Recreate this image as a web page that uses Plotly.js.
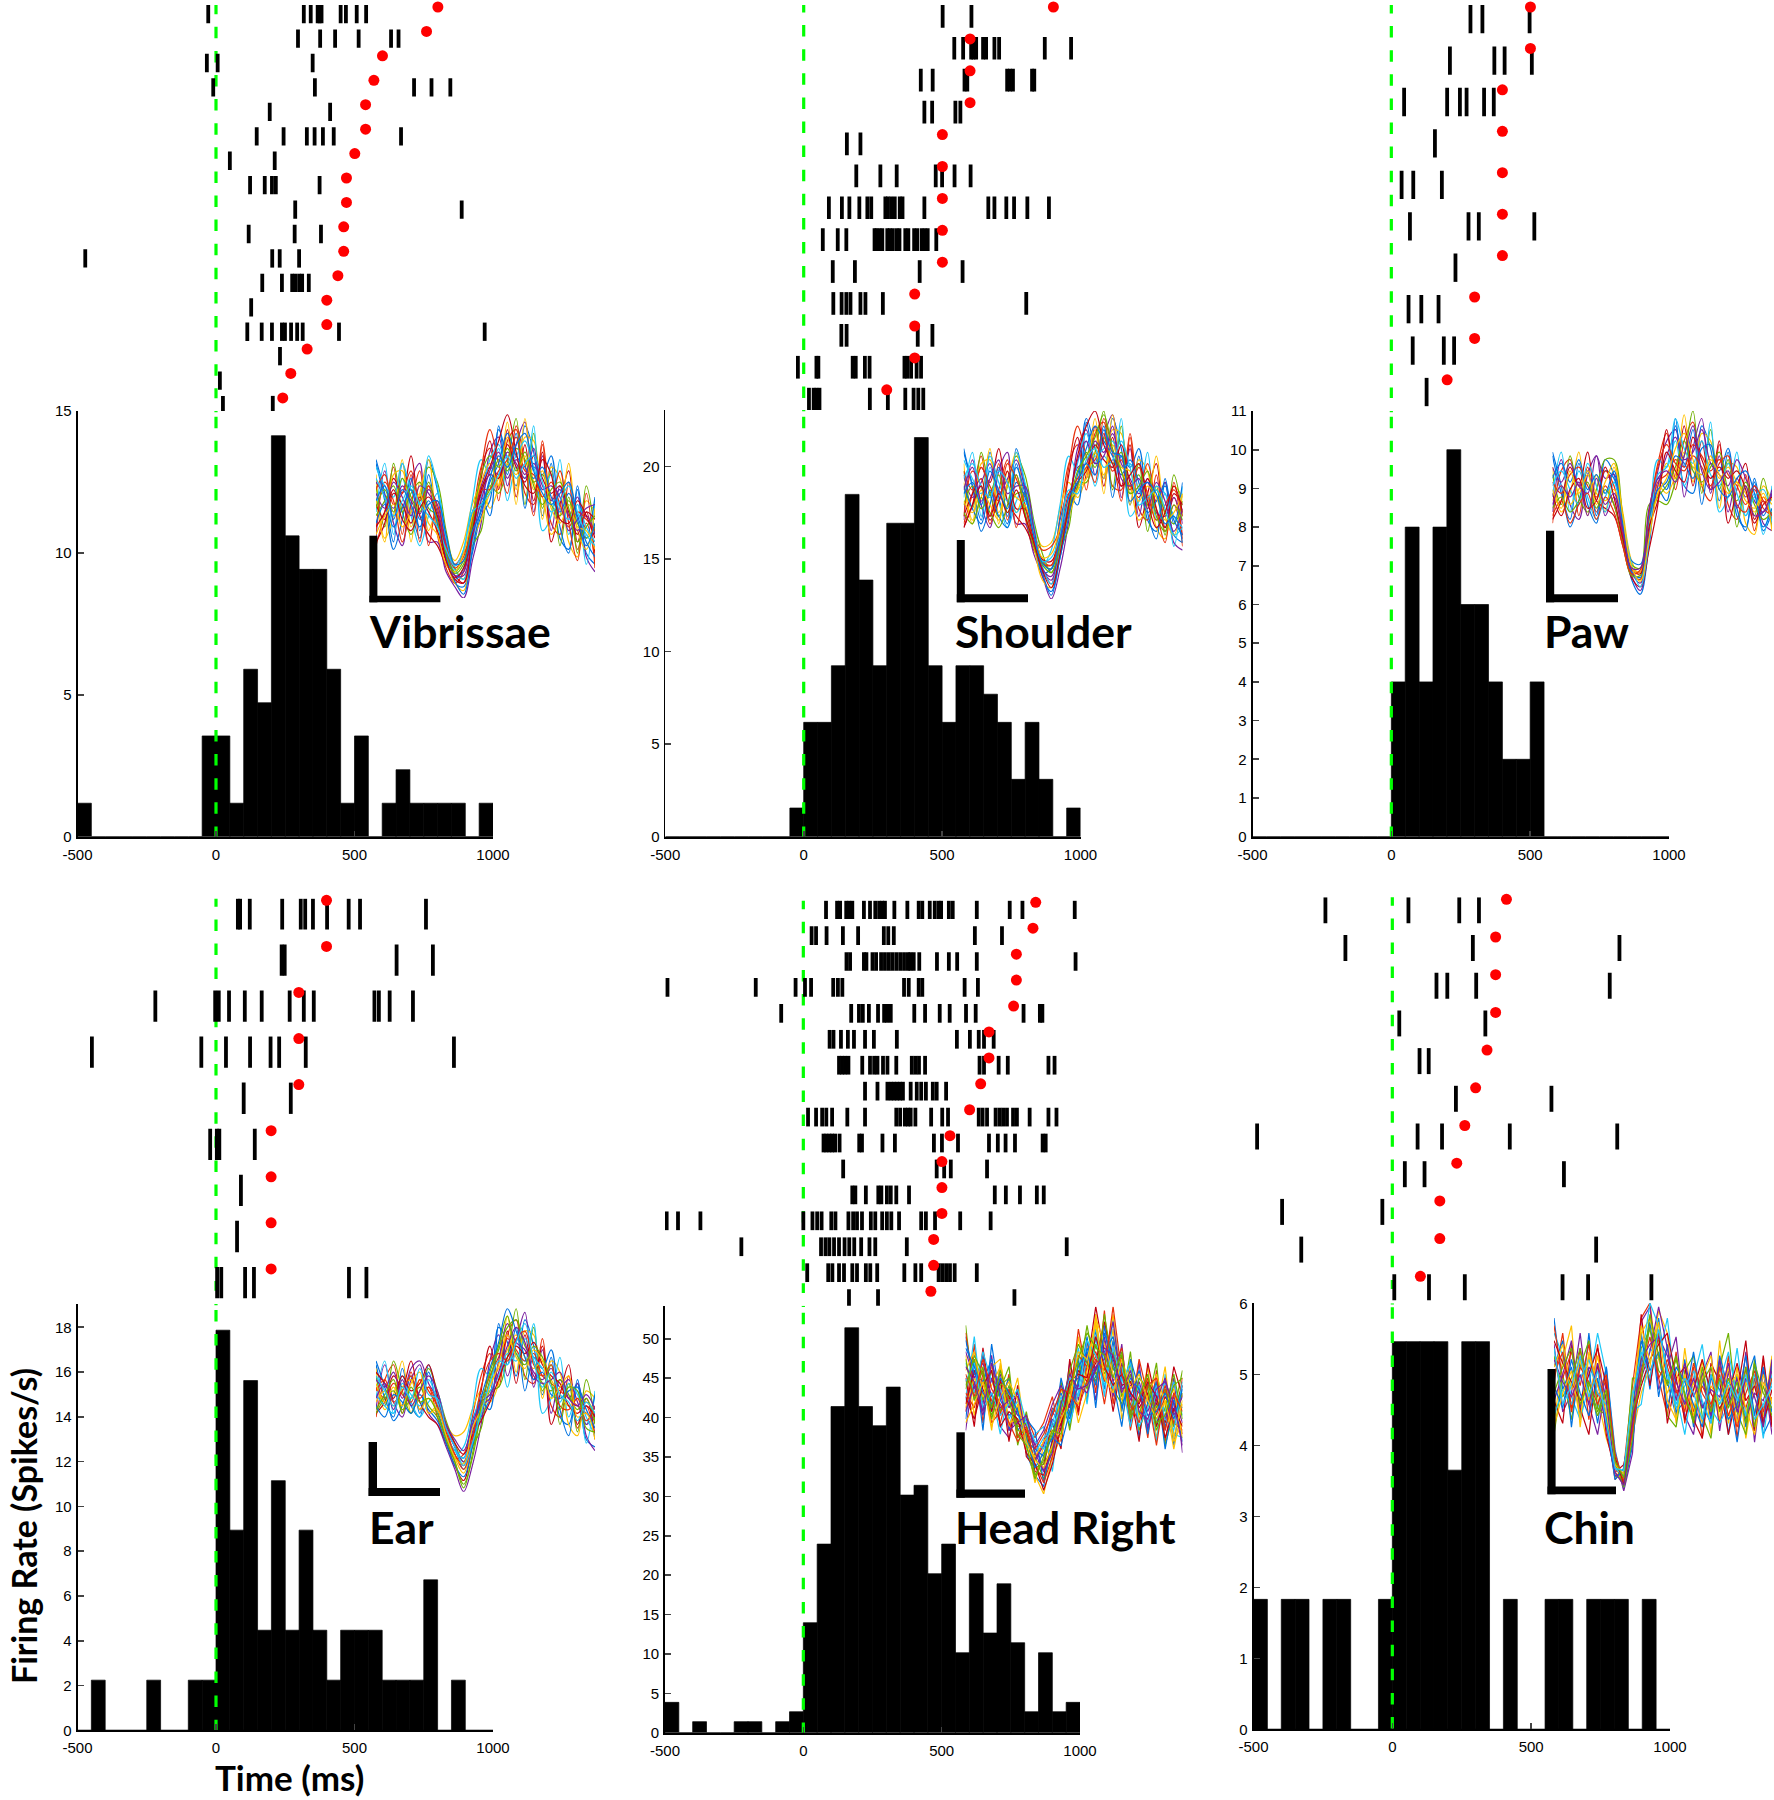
<!DOCTYPE html>
<html>
<head>
<meta charset="utf-8">
<script src="https://cdn.plot.ly/plotly-3.0.1.min.js"></script>
<style>html,body{margin:0;padding:0;background:#fff;overflow:hidden}#chart{width:1774px;height:1800px}</style>
</head>
<body>
<div id="chart"></div>
<script>
const xTickValues = [-500, 0, 500, 1000];
const xTickLabels = ['-500', '0', '500', '1000'];
const binStarts = [-500,-450,-400,-350,-300,-250,-200,-150,-100,-50,0,50,100,150,200,250,300,350,400,450,500,550,600,650,700,750,800,850,900,950];
const panelNames = ['Vibrissae', 'Shoulder', 'Paw', 'Ear', 'Head Right', 'Chin'];
const yAxisLabel = 'Firing Rate (Spikes/s)';
const xAxisLabel = 'Time (ms)';
const waveColors = ['#0072e0','#e8300c','#ffc000','#7a1fa0','#6fb000','#1ec8f8','#c00010'];

// firing rates, spikes/s, one per 50 ms bin
const vibrissaeRate = [1.18,0,0,0,0,0,0,0,0,3.55,3.55,1.18,5.9,4.72,14.13,10.6,9.42,9.42,5.9,1.18,3.55,0,1.18,2.36,1.18,1.18,1.18,1.18,0,1.18];
const shoulderRate = [0,0,0,0,0,0,0,0,0,1.55,6.18,6.18,9.24,18.5,13.87,9.24,16.94,16.94,21.57,9.24,6.18,9.24,9.24,7.7,6.18,3.1,6.18,3.1,0,1.55];
const pawRate = [0,0,0,0,0,0,0,0,0,0,4,8,4,8,10,6,6,4,2,2,4,0,0,0,0,0,0,0,0,0];
const earRate = [0,2.24,0,0,0,2.24,0,0,2.24,2.24,17.87,8.94,15.62,4.47,11.15,4.47,8.94,4.47,2.24,4.47,4.47,4.47,2.24,2.24,2.24,6.72,0,2.24,0,0];
const headRate = [3.85,0,1.4,0,0,1.4,1.4,0,1.4,2.66,13.96,23.94,41.4,51.4,41.4,38.96,43.87,30.16,31.4,20.18,23.94,10.15,20.18,12.65,18.9,11.42,2.66,10.15,2.66,3.85];
const chinRate = [1.83,0,1.83,1.83,0,1.83,1.83,0,0,1.83,5.46,5.46,5.46,5.46,3.65,5.46,5.46,0,1.83,0,0,1.83,1.83,0,1.83,1.83,1.83,0,1.83,0];

// cue time (red dot) per trial, ms
const vibrissaeCue = [801,760,601,570,540,540,501,471,471,461,461,440,400,400,329,270,241];
const shoulderCue = [902,601,601,601,501,501,501,501,501,401,401,401,300];
const pawCue = [501,501,400,400,400,400,400,300,300,201];
const earCue = [399,399,299,299,299,199,199,199,199];
const headCue = [840,830,770,770,760,671,671,641,601,530,501,501,501,471,471,461];
const chinCue = [411,372,372,372,341,300,261,232,171,171,101];

// spike times per trial, ms
const vibrissaeSpikes = [
[-28,317,342,367,374,381,450,469,508,542],[296,376,430,515,632,659],[-33,6,349],[-10,357,715,778,846],[194,412],
[147,244,328,356,386,425,668],[50,212],[123,176,202,216,374],[286,887],[118,284,379],[-472,203,230,300],
[167,238,275,286,300,311,335],[127],[113,165,202,238,249,271,293,313,444,970],[231],[14],[25,205]];
const shoulderSpikes = [
[502,606],[544,576,605,613,623,648,659,689,706,871,966],[423,466,581,591,735,745,756,825,833],[436,464,548,566],[156,205],
[190,277,336,477,500,545,603],[91,138,165,201,230,244,295,304,316,329,347,357,436,667,689,732,760,808,886],
[69,123,154,256,263,274,284,302,311,322,336,346,367,378,399,410,426,437,448,479],[105,185,419,574],
[107,137,154,169,205,223,286,804],[136,155,412,465],[-21,46,53,177,188,221,238,364,374,388,408,424],[19,36,46,57,239,304,367,397,414,432]];
const pawSpikes = [
[285,328,498],[211,371,408,506],[46,201,247,271,334,369],[157],[37,79,182],[67,278,315,515],[231],[62,108,170],[77,189,226],[127]];
const earSpikes = [
[79,87,122,239,306,322,350,401,479,520,758],[237,248,652,783],[-219,-3,10,47,104,165,266,317,353,572,588,627,711],
[-448,-53,36,123,197,228,324,859],[100,270],[-21,3,12,140],[90],[76],[4,19,105,137,480,543]];
const headSpikes = [
[82,122,133,155,166,177,219,241,260,274,285,295,329,376,417,430,457,475,489,498,526,540,627,746,792,981],
[30,46,84,143,198,291,307,327,620,718],
[156,169,219,228,250,263,281,295,309,322,336,350,364,378,387,399,419,483,526,556,627,984],
[-491,-172,-28,6,28,108,125,141,364,381,417,430,583,631],
[-80,173,201,215,237,270,292,303,316,401,440,493,529,588,623,796,855,864],
[95,109,136,161,183,223,255,338,555,602,634,653,688],
[129,140,151,163,213,241,256,268,288,304,336,392,405,418,440,637,653,706,739,886,908],
[223,268,304,316,327,338,349,360,388,410,426,443,468,482,516],
[17,46,68,83,104,159,223,336,350,367,378,388,405,462,502,523,634,648,664,695,709,722,736,758,772,818,886,915],
[73,83,94,104,115,131,202,212,286,331,472,501,559,671,703,731,765,865,876],
[144,482,509,533,664],
[177,188,226,271,282,302,316,336,382,692,732,783,844,869],
[-494,-453,-372,0,33,50,66,101,116,163,180,194,212,244,260,285,302,318,346,426,443,476,567,677],
[-224,64,80,94,111,129,149,166,184,209,239,260,374,952],
[14,90,105,129,147,177,194,226,242,267,365,405,426,489,502,516,530,547,627],
[165,270,763]];
const chinSpikes = [
[-241,58,241,312],[-169,290,818],[159,198,302,783],[25,335],[98,131],[229,573],[-487,91,179,423,810],[45,116,618],[-397,-36],[-328,734],[7,132,261,613,705,933]];

// spike waveforms, percent of the inset height
const vibrissaeWaves = [
[74,56,30,72,48,32,74,58,30,8,6,24,44,52,90,74,60,92,78,44,72,32,26,58,24,18],
[28,46,70,34,66,30,60,34,16,8,14,42,70,80,52,84,90,56,50,82,40,34,62,26,40,20],
[66,32,44,74,30,62,36,48,30,20,30,50,60,48,60,94,58,86,84,42,70,64,30,22,52,46],
[32,68,40,28,62,72,30,30,14,6,0,20,40,78,86,60,82,94,46,76,36,60,44,54,22,14],
[60,38,72,46,34,52,70,62,36,16,10,28,36,60,56,72,96,50,88,48,68,28,54,24,60,34],
[46,72,34,64,44,28,44,56,32,14,26,52,74,66,80,52,70,64,92,36,44,74,34,50,18,52],
[30,40,64,56,76,44,34,28,18,12,8,36,64,84,58,90,54,82,52,78,30,50,68,30,46,24],
[72,52,26,42,64,36,66,40,22,10,16,46,54,44,92,66,88,48,70,66,76,38,24,60,32,54],
[36,62,52,30,50,68,28,52,28,18,24,34,68,90,72,56,92,72,44,84,52,68,40,20,56,16],
[54,30,66,68,38,56,74,36,20,8,4,30,42,56,64,86,50,96,62,54,34,44,72,36,26,48],
[62,55,48,60,52,45,58,50,30,12,14,38,60,70,66,78,72,64,72,60,52,58,44,36,44,34],
[44,52,60,46,56,62,48,44,24,14,20,38,50,58,74,68,80,74,62,66,50,44,52,40,32,38],
[70,60,54,72,58,50,76,60,32,15,10,30,54,74,82,70,76,84,70,58,66,48,42,50,38,30],
[50,42,56,50,40,54,46,36,20,11,16,36,56,66,64,82,70,62,76,64,56,60,46,34,46,42],
[40,50,38,48,58,42,52,40,22,9,2,26,48,62,72,88,76,70,64,70,54,46,56,44,30,22],
[58,66,50,56,68,52,60,48,28,16,22,42,58,58,68,74,86,68,66,54,62,50,38,46,42,36],
[34,44,50,38,46,56,40,34,18,14,24,44,62,72,60,72,66,76,58,68,48,40,50,38,36,26],
[56,48,62,54,44,60,56,46,26,12,12,32,52,68,78,64,74,66,80,58,60,54,36,42,48,50],
[48,58,46,64,54,46,62,42,24,13,18,40,66,76,70,80,68,78,60,50,58,62,48,30,38,44],
[64,54,44,52,60,50,44,38,26,17,26,46,50,56,66,76,64,72,76,62,46,52,60,46,34,28],
[38,46,58,42,36,48,54,44,20,10,8,34,58,70,84,98,78,60,56,74,66,42,40,52,44,32],
[52,60,42,58,50,38,50,52,34,18,20,36,46,64,76,70,82,88,68,56,50,56,62,42,28,40]];
const shoulderWaves = [
[80,60,42,78,54,40,80,60,36,12,4,22,46,60,96,80,64,96,80,50,76,42,36,62,34,30],
[40,56,76,44,72,42,66,44,26,20,18,44,72,82,58,88,94,60,58,86,48,42,66,36,50,32],
[72,42,54,80,40,68,46,56,40,28,30,48,62,54,66,96,64,90,88,50,74,68,38,32,60,54],
[42,74,50,38,68,78,40,40,24,12,0,16,42,80,90,66,86,98,54,80,44,64,52,62,30,26],
[68,48,78,56,44,60,76,66,42,24,14,26,38,62,62,78,100,58,92,56,72,36,60,34,66,44],
[54,78,44,70,52,38,52,60,36,18,26,50,76,68,84,60,76,70,96,44,52,78,42,56,28,60],
[38,50,70,62,80,52,44,38,28,16,8,34,66,86,64,92,60,86,60,82,38,56,72,38,54,34],
[78,60,36,50,70,44,72,50,30,14,16,42,56,50,94,72,92,54,76,70,80,46,32,64,40,62],
[44,68,60,40,58,74,38,56,34,26,28,38,70,92,76,62,96,78,52,88,58,72,48,30,62,28],
[62,40,72,74,46,62,78,46,28,10,6,30,44,58,70,90,56,98,68,60,42,50,76,44,34,56],
[66,54,62,72,56,64,74,58,34,16,10,28,52,70,72,84,78,88,72,64,56,62,46,44,54,40],
[50,60,48,56,66,46,56,56,38,20,16,34,48,60,78,70,86,72,78,60,66,50,58,46,40,52],
[74,64,56,76,62,52,78,62,40,17,8,26,54,72,88,76,80,84,70,72,58,52,60,56,44,38],
[44,56,64,42,52,68,48,48,32,21,20,32,46,62,68,82,74,70,82,62,54,64,48,38,56,50],
[60,48,40,58,44,38,62,54,36,14,2,22,44,66,80,92,84,76,66,74,62,46,52,60,42,34],
[68,58,70,60,52,72,64,50,30,19,18,36,56,64,70,74,88,68,74,58,70,56,42,50,58,44],
[52,46,58,50,42,60,54,50,36,22,24,38,52,58,64,78,66,82,70,68,52,60,54,42,46,56],
[58,70,52,64,74,56,60,60,38,16,12,30,50,74,84,72,76,92,64,60,64,48,62,52,36,48],
[46,40,54,46,38,50,66,46,28,18,14,28,48,68,76,86,98,80,68,56,60,68,44,36,50,42],
[64,72,60,54,68,62,46,52,34,20,22,34,58,56,74,80,70,74,84,70,50,54,58,48,34,38],
[38,50,60,44,56,46,58,44,30,15,6,24,50,76,92,100,82,72,60,66,72,52,38,46,60,46],
[56,62,50,68,58,48,70,56,34,19,16,32,54,62,72,66,90,78,76,52,58,62,56,40,44,30]];
const pawWaves = [
[76,56,42,72,50,40,74,66,38,10,2,28,58,52,96,60,56,92,80,52,78,44,38,62,36,46],
[40,68,74,44,70,46,60,50,32,16,14,46,72,88,58,84,94,60,52,82,50,42,66,36,54,42],
[70,46,56,78,44,66,46,70,46,20,12,40,60,56,66,98,62,88,84,48,72,70,40,34,60,52],
[46,74,50,42,66,76,44,54,34,12,4,34,68,84,90,54,80,96,56,76,46,64,54,60,40,36],
[66,50,76,54,46,58,74,74,44,18,16,50,52,50,62,76,100,56,90,58,74,38,60,44,64,38],
[54,78,46,68,54,42,54,62,36,14,10,36,74,70,84,60,70,66,94,46,54,78,44,56,34,60],
[42,52,70,60,78,52,48,44,28,11,6,26,50,90,64,92,60,84,58,84,40,58,72,42,52,40],
[78,60,38,52,68,44,68,64,42,20,18,44,64,58,92,70,90,50,72,68,80,48,36,64,44,56],
[62,56,66,70,60,54,68,60,34,13,10,36,62,66,74,70,82,76,68,74,66,60,50,58,48,44],
[52,60,50,58,68,56,52,58,40,16,14,40,56,72,64,78,70,66,76,64,70,62,56,46,54,50],
[70,62,72,60,56,76,64,66,38,14,8,34,60,76,86,74,78,90,72,66,60,74,64,52,46,56],
[48,54,46,52,62,48,58,50,30,12,12,44,54,60,70,84,68,62,70,78,58,52,62,50,42,46],
[60,68,58,50,72,60,46,62,42,18,6,30,66,70,96,80,72,84,66,60,72,56,44,54,58,40],
[56,44,58,64,48,52,70,54,32,15,13,38,52,78,68,62,86,74,64,70,64,68,58,40,50,54],
[64,72,62,74,58,66,56,68,40,14,11,42,58,62,76,72,64,80,82,58,54,64,68,56,38,48],
[44,52,40,50,56,42,54,46,28,13,15,46,70,82,72,68,76,70,60,72,76,50,46,60,52,44],
[58,48,68,56,66,50,62,72,44,17,9,32,56,64,80,88,74,60,74,66,56,62,52,48,56,36],
[50,60,54,62,44,64,50,56,36,16,16,48,64,68,62,76,92,68,58,62,68,48,60,44,46,58]];
const earWaves = [
[68,50,40,66,46,40,68,50,34,24,12,24,40,50,88,80,62,92,78,52,72,40,36,58,28,24],
[40,60,68,42,64,44,56,40,26,18,20,40,62,74,56,84,92,62,58,82,46,40,62,34,46,28],
[66,44,52,70,42,60,42,46,36,30,32,44,54,48,58,94,64,86,84,50,70,64,36,30,54,50],
[44,68,48,40,60,68,42,36,24,12,0,14,36,70,84,62,80,96,56,76,42,60,50,58,30,22],
[62,46,70,54,42,54,66,54,38,26,16,24,34,54,56,72,98,60,88,54,68,36,58,32,60,38],
[50,70,42,62,48,40,48,52,34,20,24,44,66,62,78,56,74,70,90,42,50,72,40,54,26,54],
[42,48,62,56,70,48,40,36,26,14,6,26,54,78,60,86,58,84,60,78,36,52,68,36,50,30],
[70,56,38,46,62,42,64,44,30,22,18,38,48,44,90,68,88,54,72,66,76,44,30,60,36,52],
[56,50,58,52,48,60,54,46,34,20,14,30,48,62,72,82,76,70,74,62,58,54,50,46,42,38],
[48,54,46,56,60,44,50,44,32,18,10,26,44,58,66,76,84,72,66,70,60,52,46,50,48,44],
[60,56,64,50,66,70,58,50,34,24,16,32,46,50,70,90,80,76,64,60,66,56,60,48,36,42],
[42,50,54,44,50,56,46,40,28,16,4,18,42,60,76,88,92,78,70,58,54,60,52,44,50,36],
[52,46,42,58,52,46,60,48,30,22,18,34,52,54,62,74,70,82,72,66,56,48,58,52,40,30],
[64,58,50,62,54,58,68,52,36,26,20,30,38,48,60,72,78,74,80,68,62,58,46,42,46,40],
[46,40,52,48,42,52,44,38,26,14,8,24,50,66,80,98,86,72,60,64,52,50,54,56,44,34],
[54,60,48,54,62,50,56,46,32,20,12,28,56,70,74,70,82,86,68,62,68,46,44,50,38,46],
[58,48,56,46,58,64,42,44,30,18,15,34,44,56,68,84,72,66,76,70,50,56,62,40,42,28],
[50,58,44,60,46,54,62,54,36,28,22,36,48,52,64,78,88,80,62,58,60,64,50,46,52,44],
[44,52,60,42,56,48,50,42,28,16,2,20,46,64,78,94,74,68,78,72,58,44,56,54,34,32],
[62,54,46,56,50,66,52,50,34,24,14,26,42,58,70,68,80,90,70,56,64,52,48,38,48,42]];
const headWaves = [
[84,58,74,44,68,34,56,22,10,4,30,50,36,72,50,88,56,82,44,70,30,60,36,62,26,58],
[44,80,38,70,42,64,30,42,30,38,52,28,66,42,82,54,98,48,74,34,58,30,66,28,54,32],
[74,42,62,34,70,46,62,28,6,26,18,56,46,84,58,96,60,88,40,60,48,68,30,50,24,48],
[34,66,48,74,36,30,46,36,26,12,44,36,70,50,76,50,82,52,80,38,70,34,54,34,62,22],
[90,50,60,42,56,68,26,44,20,8,24,60,34,62,90,64,70,56,48,76,34,48,70,26,44,66],
[50,84,44,54,32,56,44,24,32,36,12,46,58,78,48,84,52,94,60,36,62,56,28,64,32,30],
[62,36,78,46,62,28,58,20,14,16,38,24,72,44,68,100,74,44,70,54,28,70,48,38,68,52],
[40,72,34,80,50,62,34,40,34,6,28,62,42,58,84,46,90,60,36,72,56,32,60,24,50,28],
[86,56,66,38,44,52,52,30,18,28,46,40,50,88,62,74,48,76,66,42,72,52,26,56,36,62],
[46,62,52,68,72,38,40,34,10,0,20,30,62,38,54,92,66,96,52,64,42,62,44,68,28,38],
[76,62,70,52,64,46,54,30,18,26,40,34,58,62,74,66,84,60,70,50,60,44,58,40,52,38],
[58,72,50,66,44,58,36,38,14,16,24,50,42,70,56,80,64,76,52,64,42,58,46,56,36,54],
[70,54,76,60,56,40,50,26,22,30,36,46,62,52,72,88,70,56,68,46,58,38,54,44,60,42],
[48,66,56,44,60,52,38,34,12,10,28,38,48,66,60,70,92,72,58,60,46,54,36,52,44,58],
[82,64,60,72,50,42,46,28,24,20,44,54,40,60,78,62,76,84,62,52,66,48,60,36,50,46],
[54,46,64,50,38,56,30,36,16,6,20,42,56,74,68,76,60,68,78,44,50,62,42,58,38,34],
[66,76,52,58,68,36,48,24,20,28,34,30,52,48,66,94,80,64,50,68,40,52,64,48,56,30],
[44,58,42,62,46,50,42,40,26,34,48,58,46,58,54,68,72,92,56,58,54,36,50,62,42,52],
[72,50,68,40,58,62,34,32,10,18,32,44,66,80,70,60,96,66,74,42,62,56,34,46,64,40],
[60,70,46,54,42,48,56,38,28,24,38,52,38,54,82,74,58,78,60,70,36,46,58,40,34,60],
[52,40,58,66,36,44,40,22,16,2,16,36,60,64,62,84,68,58,64,54,48,60,52,30,46,36],
[78,68,54,48,62,54,44,30,14,22,30,26,44,68,76,58,86,70,46,62,56,42,44,54,40,56],
[64,52,72,56,48,38,28,34,24,32,42,56,54,46,60,72,66,100,64,48,38,58,62,34,54,44],
[38,48,60,36,52,60,50,28,18,14,26,40,50,76,72,90,62,54,72,56,64,50,40,50,30,50],
[68,60,44,70,54,34,38,42,22,12,22,48,64,56,58,66,78,74,54,66,44,40,56,60,48,26],
[56,74,64,46,66,50,32,26,8,20,34,32,56,72,86,78,74,62,76,40,52,64,38,42,58,62]];
const chinWaves = [
[92,54,66,40,84,44,66,22,1,24,84,54,92,58,40,70,34,60,38,70,30,62,34,68,30,40],
[58,84,44,76,38,78,36,6,12,56,92,100,60,40,74,36,66,28,62,36,72,28,66,32,70,36],
[36,70,88,34,72,50,28,14,8,30,52,66,96,84,36,76,42,70,30,80,36,66,28,58,40,72],
[78,42,52,84,46,30,58,18,0,20,90,98,54,66,82,40,30,62,74,32,64,36,74,26,64,30],
[30,62,38,66,80,44,40,8,6,60,60,88,80,40,34,64,72,40,28,66,84,42,30,70,34,66],
[84,72,50,38,56,84,62,20,2,42,46,76,70,92,52,30,60,78,44,36,46,76,40,60,28,62],
[48,36,78,44,30,68,30,10,14,36,94,56,84,36,60,66,38,28,68,58,30,52,80,32,72,34],
[66,80,34,70,64,36,66,16,4,26,66,90,50,78,42,48,74,46,36,72,54,26,58,72,36,68],
[88,60,74,56,78,50,62,14,3,34,72,60,84,66,52,60,42,56,46,62,40,54,44,60,38,50],
[66,78,54,70,48,72,44,10,6,46,84,92,70,52,64,44,58,36,56,48,66,36,58,42,62,46],
[48,62,80,44,66,58,34,8,10,40,60,74,98,76,48,68,50,62,40,70,46,60,38,52,48,64],
[72,50,60,76,54,40,52,16,2,28,76,86,64,58,72,50,38,58,66,42,60,44,66,34,56,40],
[40,54,46,60,70,52,46,12,8,52,68,100,88,62,44,56,64,48,36,58,74,50,40,62,44,58],
[80,68,58,48,62,76,56,18,4,38,56,70,78,84,60,38,54,70,52,44,52,68,48,56,36,54],
[56,44,70,52,40,60,38,6,12,44,80,64,74,44,66,58,46,34,60,54,38,46,72,40,66,42],
[62,74,42,66,58,46,60,20,5,32,64,82,60,70,54,42,68,52,44,66,50,34,52,64,42,60],
[34,52,64,38,74,56,42,14,9,48,88,68,90,48,38,62,40,60,72,38,56,62,44,30,58,48],
[70,58,50,62,46,68,48,10,3,36,70,78,82,72,58,46,60,44,54,50,68,42,60,50,34,70],
[52,66,76,46,58,42,54,16,7,42,58,94,72,56,70,52,36,66,42,60,44,58,36,68,52,44],
[76,46,56,72,50,64,36,12,11,50,74,60,86,64,46,60,52,38,62,46,58,48,62,38,46,56]];

const W = 1774, H = 1800;
const panels = [
 {name:panelNames[0], rate:vibrissaeRate, cue:vibrissaeCue, spikes:vibrissaeSpikes, waves:vibrissaeWaves, spline:true,
  x0:77.5, x1:493, top:411, bottom:836.7, yMax:15, yTicks:[0,5,10,15],
  rowY:7, pitch:24.43, tickH:18.3, clipTop:5, greenStart:2.7, greenEnd:398.3, histDash:416.7,
  box:[376,595,411,598], bar:[369.4,377.4,535.7,602.3,440.4,595.7], label:[367,631]},
 {name:panelNames[1], rate:shoulderRate, cue:shoulderCue, spikes:shoulderSpikes, waves:shoulderWaves, spline:true,
  x0:665.3, x1:1080.5, top:410, bottom:836.7, yMax:23.06, yTicks:[0,5,10,15,20],
  rowY:7, pitch:31.9, tickH:22.7, clipTop:5, greenStart:1, greenEnd:398, histDash:416.7,
  box:[963.7,1182.6,411,599], bar:[956.8,964.8,540,602.3,1028,594.3], label:[953,631]},
 {name:panelNames[2], rate:pawRate, cue:pawCue, spikes:pawSpikes, waves:pawWaves, spline:true,
  x0:1252.5, x1:1669, top:411, bottom:836.7, yMax:11, yTicks:[0,1,2,3,4,5,6,7,8,9,10,11],
  rowY:7, pitch:41.43, tickH:28.3, clipTop:5, greenStart:2, greenEnd:398, histDash:416.7,
  box:[1552.5,1772,411,598], bar:[1546,1554.2,530.7,602.3,1618,594.3], label:[1542,631]},
 {name:panelNames[3], rate:earRate, cue:earCue, spikes:earSpikes, waves:earWaves, spline:true,
  x0:77.5, x1:493, top:1304, bottom:1730.3, yMax:19.04, yTicks:[0,2,4,6,8,10,12,14,16,18],
  rowY:900.3, pitch:46.08, tickH:31.3, clipTop:898.7, greenStart:895.3, greenEnd:1290.7, histDash:1310,
  box:[376,595,1305,1491.7], bar:[368.6,377,1442,1496,440,1488], label:[367,1526]},
 {name:panelNames[4], rate:headRate, cue:headCue, spikes:headSpikes, waves:headWaves, spline:false,
  x0:665, x1:1080, top:1305.7, bottom:1732.7, yMax:54.2, yTicks:[0,5,10,15,20,25,30,35,40,45,50],
  rowY:902.3, pitch:25.93, tickH:18.7, clipTop:900.7, greenStart:897.7, greenEnd:1293, histDash:1312.7,
  box:[965.6,1182.5,1306.7,1494], bar:[956.4,964.8,1432.3,1497.7,1025,1489.5], label:[953,1526]},
 {name:panelNames[5], rate:chinRate, cue:chinCue, spikes:chinSpikes, waves:chinWaves, spline:false,
  x0:1253.5, x1:1670, top:1303.3, bottom:1729.3, yMax:6, yTicks:[0,1,2,3,4,5,6],
  rowY:899.3, pitch:37.7, tickH:26, clipTop:897.3, greenStart:894.3, greenEnd:1289, histDash:1307.3,
  box:[1554,1772,1303,1491], bar:[1547.5,1555.6,1369,1494.3,1616,1486.6], label:[1542,1526]}
];

const fx = px => px / W;
const fy = px => 1 - px / H;
const traces = [], shapes = [], annotations = [];
const layout = {width:W, height:H, margin:{l:0,r:0,t:0,b:0}, paper_bgcolor:'#fff', plot_bgcolor:'rgba(0,0,0,0)',
  showlegend:false, barmode:'overlay', hovermode:false};
const tickFont = {family:'"Liberation Sans", Arial, sans-serif', size:15, color:'#000'};
const labelFont = size => ({family:'Lato, sans-serif', size:size, color:'#000', weight:700});

let axisIndex = 1;
function addAxes(xSpec, ySpec) {
  const n = axisIndex++;
  const sfx = n === 1 ? '' : String(n);
  layout['xaxis' + sfx] = Object.assign({anchor:'y' + sfx}, xSpec);
  layout['yaxis' + sfx] = Object.assign({anchor:'x' + sfx}, ySpec);
  return {x:'x' + sfx, y:'y' + sfx};
}

panels.forEach(p => {
  const xDomain = [fx(p.x0), fx(p.x1)];
  const hist = addAxes(
    {domain:xDomain, range:[-500,1000], tickmode:'array', tickvals:xTickValues, ticktext:xTickLabels, ticks:'inside', ticklen:6, tickwidth:1.6,
     showline:true, linecolor:'#000', linewidth:1.8, showgrid:false, zeroline:false, tickfont:tickFont, ticklabelstandoff:3},
    {domain:[fy(p.bottom), fy(p.top)], range:[0,p.yMax], tickmode:'array', tickvals:p.yTicks, ticktext:p.yTicks.map(String), ticks:'inside', ticklen:6, tickwidth:1.6,
     showline:true, linecolor:'#000', linewidth:1.8, showgrid:false, zeroline:false, tickfont:tickFont, ticklabelstandoff:1});
  traces.push({type:'bar', x:binStarts, y:p.rate, width:50, offset:0, marker:{color:'#000', line:{color:'#000', width:0.7}}, xaxis:hist.x, yaxis:hist.y});
  const unit = p.yMax / (p.bottom - p.top);
  const val = px => (p.bottom - px) * unit;
  traces.push({type:'scatter', mode:'lines', x:[0,0,null,0,0], y:[p.yMax, val(p.top+1.3), null, val(p.histDash), 0],
    line:{color:'#00ff00', width:3.2, dash:'11.5px,12.6px'}, xaxis:hist.x, yaxis:hist.y});

  const row = px => (px - p.rowY) / p.pitch;
  const raster = addAxes(
    {domain:xDomain, range:[-500,1000], visible:false},
    {domain:[fy(p.top), fy(p.clipTop)], range:[row(p.top), row(p.clipTop)], visible:false});
  traces.push({type:'scatter', mode:'lines', x:[0,0], y:[row(p.greenStart), row(p.greenEnd)],
    line:{color:'#00ff00', width:3.2, dash:'11.5px,12.6px'}, xaxis:raster.x, yaxis:raster.y});
  const sx = [], sy = [];
  const a = -2 / p.pitch, b = (p.tickH - 2) / p.pitch;
  p.spikes.forEach((times, r) => times.forEach(t => { sx.push(t, t, null); sy.push(r + a, r + b, null); }));
  traces.push({type:'scatter', mode:'lines', x:sx, y:sy, line:{color:'#000', width:3.8}, xaxis:raster.x, yaxis:raster.y});
  traces.push({type:'scatter', mode:'markers', x:p.cue, y:p.cue.map((_, r) => r), cliponaxis:false,
    marker:{color:'#ff0000', size:11, line:{width:0}}, xaxis:raster.x, yaxis:raster.y});

  const inset = addAxes(
    {domain:[fx(p.box[0]), fx(p.box[1])], range:[0,25], visible:false},
    {domain:[fy(p.box[3]), fy(p.box[2])], range:[0,100], visible:false});
  p.waves.forEach((w, i) => traces.push({type:'scatter', mode:'lines', x:w.map((_, k) => k), y:w,
    line:{color:waveColors[i % waveColors.length], width:1.2, shape:p.spline ? 'spline' : 'linear', smoothing:1},
    xaxis:inset.x, yaxis:inset.y}));

  const [bx0, bx1, by0, by1, bx2, by2] = p.bar;
  shapes.push({type:'rect', xref:'paper', yref:'paper', x0:fx(bx0), x1:fx(bx1), y0:fy(by1), y1:fy(by0), fillcolor:'#000', line:{width:0}});
  shapes.push({type:'rect', xref:'paper', yref:'paper', x0:fx(bx0), x1:fx(bx2), y0:fy(by1), y1:fy(by2), fillcolor:'#000', line:{width:0}});
  annotations.push({xref:'paper', yref:'paper', x:fx(p.label[0]), y:fy(p.label[1]), xanchor:'left', yanchor:'middle', text:p.name, showarrow:false, font:labelFont(44.5)});
});

annotations.push({xref:'paper', yref:'paper', x:fx(23), y:fy(1526), xanchor:'center', yanchor:'middle', textangle:-90, text:yAxisLabel, showarrow:false, font:labelFont(34)});
annotations.push({xref:'paper', yref:'paper', x:fx(289), y:fy(1777), xanchor:'center', yanchor:'middle', text:xAxisLabel, showarrow:false, font:labelFont(35)});
layout.shapes = shapes;
layout.annotations = annotations;
Plotly.newPlot('chart', traces, layout, {staticPlot:true, displayModeBar:false});
</script>
</body>
</html>
